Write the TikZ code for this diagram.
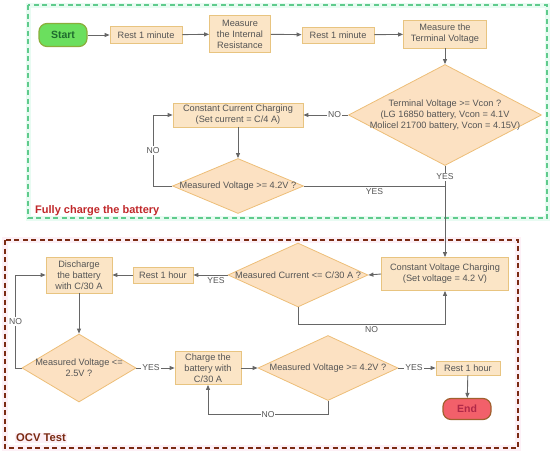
\documentclass[tikz,border=0pt]{standalone}
\usepackage{fontspec}
\setmainfont{Liberation Sans}
\usepackage{tikz}
\usetikzlibrary{positioning,calc,arrows.meta,shapes.geometric}
\definecolor{boxfill}{HTML}{FBE5C6}
\definecolor{boxline}{HTML}{E8C480}
\definecolor{diafill}{HTML}{FCE1C2}
\definecolor{dialine}{HTML}{EDBE78}
\definecolor{txtgray}{HTML}{555555}
\definecolor{arrgray}{HTML}{666666}
\definecolor{startfill}{HTML}{6BDF5E}
\definecolor{startline}{HTML}{8AAE3A}
\definecolor{starttxt}{HTML}{1F6B2E}
\definecolor{endfill}{HTML}{F2606A}
\definecolor{endline}{HTML}{A0602E}
\definecolor{endtxt}{HTML}{B02848}
\definecolor{greenframe}{HTML}{5FCB8C}
\definecolor{greentint}{HTML}{E8FBF2}
\definecolor{fulltxt}{HTML}{C0282A}
\definecolor{redframe}{HTML}{7A2A12}
\definecolor{redtint}{HTML}{FDF0F6}

\begin{document}
\begin{tikzpicture}[x=1pt,y=-1pt,font=\fontsize{9.2}{11}\selectfont]
  % canvas: 550 x 455, y grows downwards
  \useasboundingbox (0,0) rectangle (550,455);
  \tikzset{
    box/.style={draw=boxline,fill=boxfill,text=txtgray,align=center,
                inner sep=1pt,line width=0.8pt},
    dia/.style={diamond,draw=dialine,fill=diafill,inner sep=0pt,line width=0.8pt},
    dtext/.style={text=txtgray,align=center,inner sep=0pt},
    term/.style={rounded corners=8pt,line width=1.2pt,align=center,
                 font=\fontsize{10.5}{12}\selectfont\bfseries},
    arr/.style={draw=arrgray,line width=0.9pt,-{Triangle[length=5pt,width=4pt]}},
    ln/.style={draw=arrgray,line width=0.9pt},
    lbl/.style={fill=white,text=txtgray,inner sep=1pt,font=\fontsize{8.6}{10}\selectfont},
    lblb/.style={text=txtgray,inner sep=2pt,font=\fontsize{8.6}{10}\selectfont}
  }
  % frames
  \draw[greentint,line width=5pt] (28,5) rectangle (547,218);
  \draw[greenframe,dashed,line width=1.6pt,dash pattern=on 5pt off 3.5pt] (28,5) rectangle (547,218);
  \draw[redtint,line width=6pt] (5,240) rectangle (518,448);
  \draw[redframe,dashed,line width=1.6pt,dash pattern=on 5pt off 3.5pt] (5,240) rectangle (518,448);
  \node[anchor=west,text=fulltxt,font=\fontsize{11}{13}\selectfont\bfseries,inner sep=1pt]
    (fulllbl) at (34,211) {Fully charge the battery};
  \node[anchor=west,fill=redtint,text=redframe,font=\fontsize{11.2}{13}\selectfont\bfseries,inner sep=1pt]
    (ocvlbl) at (15,438) {OCV Test};

  % first row
  \node[term,draw=startline,fill=startfill,text=starttxt,minimum width=48pt,minimum height=23pt]
    (start) at (63,35) {Start};
  \node[box,minimum width=72pt,minimum height=17pt] (rest1) at (146,35) {Rest 1 minute};
  \node[box,minimum width=61pt,minimum height=37pt] (intres) at (240,34) {Measure\\the Internal\\Resistance};
  \node[box,minimum width=72pt,minimum height=16pt] (rest2) at (338,35) {Rest 1 minute};
  \node[box,minimum width=83pt,minimum height=28pt] (termv) at (445,34) {Measure the\\Terminal Voltage};

  % charging part
  \node[dia,minimum width=193pt,minimum height=101pt,
    label={[dtext]center:Terminal Voltage >= Vcon ?\\(LG 16850 battery, Vcon = 4.1V\\Molicel 21700 battery, Vcon = 4.15V)}]
    (vcon) at (445,115) {};
  \node[box,minimum width=130pt,minimum height=24pt] (cc) at (238,115) {Constant Current Charging\\(Set current = C/4 A)};
  \node[dia,minimum width=131pt,minimum height=55pt,
    label={[dtext]center:Measured Voltage >= 4.2V ?}] (mv42a) at (238,186) {};
  \node[box,minimum width=127pt,minimum height=33pt] (cv) at (445,274) {Constant Voltage Charging\\(Set voltage = 4.2 V)};

  % OCV part
  \node[dia,minimum width=140pt,minimum height=64pt,
    label={[dtext]center:Measured Current <= C/30 A ?}] (mcur) at (298,275) {};
  \node[box,minimum width=60pt,minimum height=16pt] (rest3) at (163,275) {Rest 1 hour};
  \node[box,minimum width=66pt,minimum height=36pt] (dis) at (79,275) {Discharge\\the battery\\with C/30 A};
  \node[dia,minimum width=114pt,minimum height=68pt,
    label={[dtext]center:Measured Voltage <=\\2.5V ?}] (mv25) at (79,368) {};
  \node[box,minimum width=66pt,minimum height=33pt] (chg) at (208,368) {Charge the\\battery with\\C/30 A};
  \node[dia,minimum width=140pt,minimum height=65pt,
    label={[dtext]center:Measured Voltage >= 4.2V ?}] (mv42b) at (328,368) {};
  \node[box,minimum width=64pt,minimum height=14pt] (rest4) at (468,368) {Rest 1 hour};
  \node[term,draw=endline,fill=endfill,text=endtxt,minimum width=48pt,minimum height=21pt]
    (end) at (467,409) {End};

  % connectors, top row
  \draw[arr] (start) -- (rest1);
  \draw[arr] (rest1) -- (intres);
  \draw[arr] (intres) -- (rest2);
  \draw[arr] (rest2) -- (termv);
  \draw[arr] (termv) -- (vcon);
  \draw[arr] (vcon.west) -- node[pos=0.3,lbl] {NO} (cc.east);
  \draw[arr] (cc) -- (mv42a);
  \draw[arr] (mv42a.west) -- ++(-19,0) |- node[pos=0.25,lbl] {NO} (cc.west);
  \draw[ln] (mv42a.east) -- node[pos=0.5,below,lblb] {YES} (mv42a.east -| vcon.south);
  \draw[arr] (vcon.south) -- node[pos=0.12,lbl] {YES} (cv.north);

  % connectors, OCV test
  \draw[arr] (cv.west) -- (mcur.east);
  \draw[arr] (mcur.south) -- ++(0,17) -| node[pos=0.25,below,lblb] {NO} (cv.south);
  \draw[arr] (mcur.west) -- node[pos=0.34,below,lblb] {YES} (rest3.east);
  \draw[arr] (rest3) -- (dis);
  \draw[arr] (dis) -- (mv25);
  \draw[arr] (mv25.west) -- ++(-6,0) |- node[pos=0.25,lbl] {NO} (dis.west);
  \draw[arr] (mv25.east) -- node[pos=0.38,lbl] {YES} (chg.west);
  \draw[arr] (chg) -- (mv42b);
  \draw[arr] (mv42b.south) -- ++(0,14) -| node[pos=0.25,lbl] {NO} (chg.south);
  \draw[arr] (mv42b.east) -- node[pos=0.42,lbl] {YES} (rest4.west);
  \draw[arr] (rest4) -- (end);
\end{tikzpicture}
\end{document}
